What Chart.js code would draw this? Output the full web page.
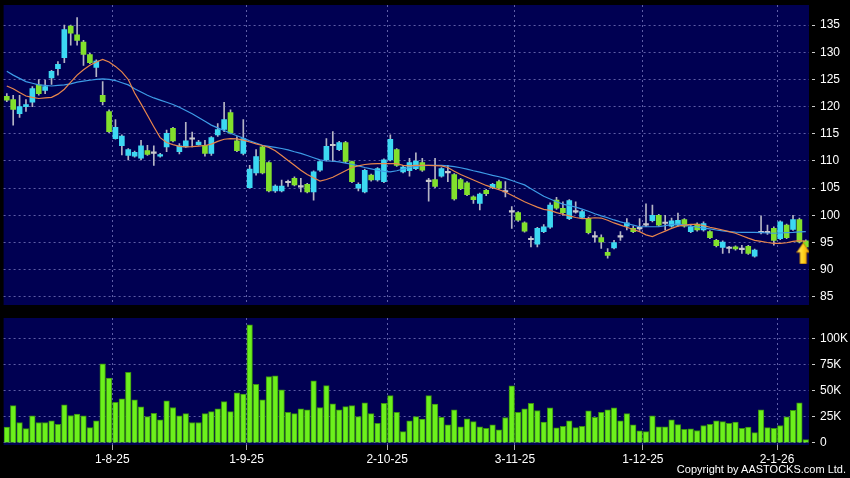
<!DOCTYPE html>
<html>
<head>
<meta charset="utf-8">
<title>Price / volume chart</title>
<script src="https://cdn.jsdelivr.net/npm/chart.js"></script>
<style>
  html, body { margin: 0; padding: 0; background: #000; }
  body { width: 850px; height: 478px; position: relative; overflow: hidden; font-family: "Liberation Sans", Arial, sans-serif; }
  #priceChart { position: absolute; left: 0; top: 0; }
  #volChart { position: absolute; left: 0; top: 310px; }
  .copy { position: absolute; right: 4px; top: 463px; color: #fff; font-size: 11px; }
</style>
</head>
<body>
<canvas id="priceChart" width="850" height="310"></canvas>
<canvas id="volChart" width="850" height="168"></canvas>
<div class="copy">Copyright by AASTOCKS.com Ltd.</div>
<script>
// --- data (one entry per trading day) ---
const opens = [121.9,121.3,118.7,120.0,120.8,124.0,123.0,125.3,127.0,129.0,
  134.8,133.2,131.9,129.6,127.2,122.1,119.1,114.1,112.8,111.0,
  110.9,110.5,111.9,111.4,110.9,112.6,116.0,111.7,112.6,114.0,
  113.0,112.9,111.4,114.8,115.8,118.9,113.7,111.4,105.1,107.8,
  112.6,109.7,104.5,104.5,106.0,106.8,105.3,105.7,104.3,108.3,
  110.2,112.9,112.1,113.4,109.9,105.0,104.3,107.4,106.5,106.2,
  110.2,112.1,108.0,108.2,108.6,109.7,106.2,106.6,107.2,107.8,
  107.5,106.6,106.0,103.4,102.2,104.6,105.1,106.2,104.3,100.7,
  100.5,98.6,95.6,94.7,97.0,97.8,102.8,101.3,99.4,100.7,
  99.6,99.4,96.1,95.9,93.2,94.0,96.0,98.0,97.6,97.5,
  98.2,99.0,100.0,98.5,98.0,98.2,99.2,97.0,98.4,97.3,
  97.0,95.4,94.1,93.9,94.2,93.7,94.3,92.5,96.9,96.8,
  97.6,95.7,98.2,97.4,99.2,95.3];
const highs = [122.4,122.1,122.1,121.3,123.7,125.0,124.9,126.7,128.3,135.0,
  135.0,136.4,132.2,129.8,128.6,124.6,119.4,117.6,114.8,112.3,
  111.8,113.8,112.9,112.8,111.4,115.7,116.2,113.2,117.1,115.3,
  113.8,113.8,114.5,116.9,120.8,119.4,114.5,117.6,109.2,112.1,
  112.9,109.9,105.6,106.5,106.5,107.1,106.8,105.9,108.2,110.0,
  114.1,115.4,113.6,113.6,110.0,106.0,108.5,107.6,108.8,110.4,
  114.8,112.3,109.2,110.5,111.5,110.5,106.8,110.5,108.8,109.2,
  107.7,106.8,106.2,103.6,104.1,104.8,105.9,106.5,106.2,101.6,
  100.7,98.8,96.1,97.8,98.3,102.3,103.3,102.5,102.9,102.5,
  100.9,99.7,97.0,96.4,93.9,95.4,97.0,99.4,98.0,99.4,
  102.1,101.9,100.2,100.0,99.5,100.4,99.4,98.2,98.6,98.8,
  97.2,95.6,95.3,94.3,94.4,94.5,94.5,93.8,99.9,98.2,
  97.9,99.0,98.4,100.0,99.5,95.5];
const lows = [120.9,116.6,118.0,119.1,120.0,122.1,122.4,124.1,125.8,128.1,
  131.3,131.3,127.6,127.9,125.5,120.3,115.2,114.0,111.1,110.2,
  110.7,110.2,111.0,109.2,110.7,111.7,113.5,111.3,112.5,112.6,
  112.9,110.9,111.0,114.5,115.4,115.0,111.7,111.1,105.0,107.4,
  107.6,104.3,104.2,104.3,105.3,105.4,104.3,104.1,102.8,108.1,
  110.0,109.9,111.9,109.7,106.0,104.5,104.1,106.3,106.3,106.0,
  110.0,109.0,107.8,107.2,108.4,108.1,102.6,105.1,107.0,106.2,
  102.8,104.7,103.6,102.2,101.0,103.6,104.9,104.8,103.4,97.6,
  98.9,96.9,94.2,94.2,96.8,97.6,101.1,100.0,99.2,100.4,
  99.4,96.6,95.1,93.9,92.1,93.8,95.4,97.3,96.8,97.2,
  97.9,98.8,98.0,97.3,97.8,98.0,97.8,96.8,97.1,97.1,
  95.7,94.2,93.0,93.1,93.6,93.0,92.8,92.3,96.6,96.5,
  94.5,95.5,95.7,97.2,94.9,94.0];
const closes = [121.2,119.5,120.0,120.4,123.3,122.4,123.7,126.5,127.8,134.2,
  133.5,132.2,129.6,128.1,128.4,120.9,115.4,116.2,114.6,112.1,
  111.6,112.8,111.2,111.4,111.2,115.1,113.7,112.8,113.7,114.1,
  113.5,111.4,114.3,115.8,117.6,115.1,111.9,114.1,108.5,110.8,
  107.8,104.5,105.4,105.4,106.1,105.6,105.2,104.3,108.0,109.9,
  112.7,112.8,113.4,109.9,106.2,105.7,108.3,106.5,108.6,110.2,
  114.0,109.2,108.9,109.7,110.0,108.3,106.3,105.3,108.6,107.9,
  103.0,104.9,103.8,102.9,103.9,104.0,105.7,105.0,104.4,100.6,
  99.1,97.1,95.5,97.6,97.9,101.9,101.3,100.5,102.7,100.6,
  100.7,96.8,96.0,95.1,92.6,95.0,96.1,98.6,97.0,97.6,
  98.3,100.0,98.2,98.6,99.0,99.1,98.0,97.9,97.3,98.5,
  95.9,94.4,95.1,94.0,93.8,93.8,93.0,93.6,96.8,96.9,
  95.4,98.8,95.9,99.2,95.1,94.2];
// moving averages as drawn (orange = short, blue = long)
const maShort = [123.8,123.3,122.6,121.95,121.7,121.5,121.6,121.7,122.3,123.2,
  124.5,125.8,126.8,127.6,128.2,128.7,128.2,127.4,126.4,125.0,
  122.5,120.5,118.4,116.3,114.3,113.4,113.0,112.7,112.6,112.65,
  112.75,112.85,113.1,113.6,114.0,114.1,114.05,113.85,113.5,113.15,
  112.85,112.5,111.9,111.0,110.1,109.2,108.3,107.5,106.9,106.3,
  106.6,107.0,107.6,108.2,108.8,109.1,109.35,109.45,109.5,109.5,
  109.5,109.5,109.2,109.1,109.2,109.2,109.2,109.15,109.1,108.8,
  108.1,107.5,107.0,106.5,106.0,105.5,105.1,104.7,104.3,103.7,
  103.1,102.5,102.0,101.5,101.1,100.9,100.5,100.2,99.9,99.6,
  99.4,99.45,99.55,99.5,99.1,98.6,98.2,97.8,97.4,97.0,
  96.4,96.1,96.6,97.1,97.6,98.0,98.2,98.35,98.35,98.1,
  97.8,97.55,97.3,97.0,96.7,96.25,95.8,95.4,95.2,95.0,
  94.85,94.85,94.95,95.2,95.35,95.2];
const maLong = [126.5,125.8,125.2,124.6,124.3,124.0,123.9,123.8,123.9,124.0,
  124.2,124.5,124.7,124.85,125.0,125.1,125.0,124.8,124.4,124.0,
  123.3,122.7,122.1,121.6,121.2,120.8,120.4,119.9,119.3,118.7,
  118.0,117.3,116.6,116.1,115.6,115.1,114.65,114.2,113.7,113.3,
  112.9,112.7,112.5,112.3,112.05,111.7,111.4,111.0,110.6,110.2,
  110.0,109.95,109.85,109.6,109.4,109.1,108.8,108.55,108.3,108.1,
  108.0,108.2,108.5,108.8,109.0,109.15,109.2,109.2,109.2,109.1,
  108.95,108.75,108.5,108.2,107.95,107.65,107.35,107.1,106.8,106.4,
  106.0,105.6,104.9,104.2,103.5,103.0,102.5,102.05,101.8,101.5,
  101.15,100.75,100.3,99.9,99.55,99.15,98.8,98.5,98.2,97.9,
  97.9,97.9,97.9,98.1,98.3,98.4,98.2,98.0,97.85,97.65,
  97.5,97.3,97.15,97.0,96.9,96.85,96.85,96.85,96.8,96.75,
  96.7,96.75,96.8,96.85,96.95,97.0];
// volume in thousands
const volumes = [15.1,35.9,19.6,13.8,26.0,19.6,19.6,21.2,17.9,36.5,
  26.3,27.6,26.0,14.7,21.2,76.0,62.2,39.1,42.3,67.9,
  41.3,34.6,25.3,28.5,22.1,40.4,34.0,26.0,28.2,19.6,
  19.6,28.2,30.1,32.7,39.7,30.1,48.1,46.8,113.5,56.4,
  41.3,63.8,64.4,51.0,29.5,28.2,32.7,31.7,59.6,34.0,
  55.1,37.5,31.9,34.9,35.9,25.3,38.5,28.2,18.9,38.1,
  45.5,29.5,10.9,21.2,25.3,22.8,45.5,37.2,24.7,17.3,
  31.9,15.4,23.1,20.5,15.4,14.1,17.3,12.5,24.4,54.8,
  29.5,32.7,38.1,31.1,19.9,33.7,14.4,16.0,21.2,14.7,
  16.0,30.8,24.7,29.5,31.7,33.7,21.2,28.2,17.3,11.5,
  10.9,26.0,15.4,15.4,22.1,17.6,13.1,13.5,11.9,16.7,
  17.9,21.2,20.5,18.9,19.9,14.1,15.1,9.9,31.9,14.7,
  14.1,16.7,25.0,31.4,38.5,3.2];

// axis labels
const dateLabels = ['1-8-25', '1-9-25', '2-10-25', '3-11-25', '1-12-25', '2-1-26'];
const dateIndex = [17, 38, 60, 80, 100, 121];
const priceTicks = [85, 90, 95, 100, 105, 110, 115, 120, 125, 130, 135];
const volTicks = [0, 25, 50, 75, 100];
const volTickLabels = ['0', '25K', '50K', '75K', '100K'];
const arrowMark = { index: 124.6, value: 93.0 };

// --- styles ---
const PANEL = '#000052';
const GRID = 'rgba(125,125,195,0.75)';
const CYAN = '#3cd8f2';
const GREEN = '#82e02c';
const GRAY = '#c8c8cc';
const WICK = '#b4b4c4';
const VOL_FILL = '#6cf01c';
const VOL_EDGE = '#3a9210';
const FONT = { family: '"Liberation Sans", Arial, sans-serif', size: 12 };

Chart.defaults.font = FONT;
Chart.defaults.color = '#fff';

const N = closes.length;
const candleColor = closes.map((c, i) => {
  const d = c - opens[i];
  if (Math.abs(d) < 0.15) return GRAY;
  return d > 0 ? CYAN : GREEN;
});

// navy plot background
const panelBg = {
  id: 'panelBg',
  beforeDraw(chart) {
    const a = chart.chartArea, ctx = chart.ctx;
    ctx.save();
    ctx.fillStyle = PANEL;
    ctx.fillRect(a.left, a.top, a.right - a.left, a.bottom - a.top);
    ctx.restore();
  }
};

// little yellow arrow used as point style
function makeArrow() {
  const c = document.createElement('canvas');
  c.width = 14; c.height = 22;
  const g = c.getContext('2d');
  const grad = g.createLinearGradient(0, 0, 14, 0);
  grad.addColorStop(0, '#fff07a');
  grad.addColorStop(0.5, '#ffd21e');
  grad.addColorStop(1, '#e89800');
  g.beginPath();
  g.moveTo(7, 0.5); g.lineTo(13.5, 10); g.lineTo(10.2, 10); g.lineTo(10.2, 21.5);
  g.lineTo(3.8, 21.5); g.lineTo(3.8, 10); g.lineTo(0.5, 10); g.closePath();
  g.fillStyle = grad; g.fill();
  g.strokeStyle = '#b87400'; g.lineWidth = 0.8; g.stroke();
  return c;
}

// axes must not push the plot area in, the panels sit at fixed places
function noPad(s) {
  s.paddingTop = 0; s.paddingBottom = 0; s.paddingLeft = 0; s.paddingRight = 0;
}

function xAxis(withLabels) {
  return {
    type: 'linear', min: -0.5, max: N - 0.5, offset: false,
    afterBuildTicks: s => { s.ticks = dateIndex.map(i => ({ value: i - 0.5 })); },
    afterFit: s => { s.height = withLabels ? 33 : 0; noPad(s); },
    ticks: {
      display: withLabels, autoSkip: false, maxRotation: 0, padding: 2, color: '#fff',
      callback: v => dateLabels[dateIndex.indexOf(v + 0.5)]
    },
    grid: { offset: false, color: GRID, drawTicks: withLabels, tickLength: 5, tickColor: '#aaa', tickBorderDash: [] },
    border: { display: false, dash: [2, 3] }
  };
}

function yAxis(min, max, ticks, label) {
  return {
    position: 'right', min: min, max: max,
    afterBuildTicks: s => { s.ticks = ticks.map(v => ({ value: v })); },
    afterFit: s => { s.width = 41; noPad(s); },
    ticks: { color: '#fff', padding: 5, callback: label },
    grid: { color: GRID, tickColor: '#ccc', tickLength: 6, tickBorderDash: [3, 3], tickBorderDashOffset: 3 },
    border: { display: false, dash: [2, 3] }
  };
}

const pts = arr => arr.map((v, i) => ({ x: i, y: v }));

new Chart(document.getElementById('priceChart'), {
  type: 'bar',
  data: {
    datasets: [
      { type: 'line', data: pts(maShort), borderColor: '#e8864c', borderWidth: 1.2, pointRadius: 0, order: 0 },
      { type: 'line', data: pts(maLong), borderColor: '#3d9be6', borderWidth: 1.2, pointRadius: 0, order: 0 },
      { type: 'line', data: [{ x: arrowMark.index, y: arrowMark.value }], showLine: false,
        pointStyle: makeArrow(), pointRadius: 8, order: -1 },
      { data: closes.map((c, i) => ({ x: i, y: [Math.min(c, opens[i]), Math.max(c, opens[i])] })),
        backgroundColor: candleColor, barThickness: 5, minBarLength: 1.5, grouped: false, order: 1 },
      { data: closes.map((c, i) => ({ x: i, y: [lows[i], highs[i]] })),
        backgroundColor: WICK, barThickness: 1, grouped: false, order: 2 }
    ]
  },
  options: {
    responsive: false, animation: false, maintainAspectRatio: false,
    layout: { autoPadding: false, padding: { left: 3.6, top: 5, right: 0, bottom: 5 } },
    plugins: { legend: { display: false }, tooltip: { enabled: false } },
    scales: {
      x: xAxis(false),
      y: yAxis(83.5, 138.7, priceTicks, v => String(v))
    }
  },
  plugins: [panelBg]
});

new Chart(document.getElementById('volChart'), {
  type: 'bar',
  data: {
    datasets: [
      { data: pts(volumes), backgroundColor: VOL_FILL, borderColor: VOL_EDGE, borderWidth: 1, barThickness: 5.6 }
    ]
  },
  options: {
    responsive: false, animation: false, maintainAspectRatio: false,
    layout: { autoPadding: false, padding: { left: 3.6, top: 8, right: 0, bottom: 0 } },
    plugins: { legend: { display: false }, tooltip: { enabled: false } },
    scales: {
      x: xAxis(true),
      y: yAxis(-2, 120, volTicks, v => volTickLabels[volTicks.indexOf(v)])
    }
  },
  plugins: [panelBg]
});
</script>
</body>
</html>
